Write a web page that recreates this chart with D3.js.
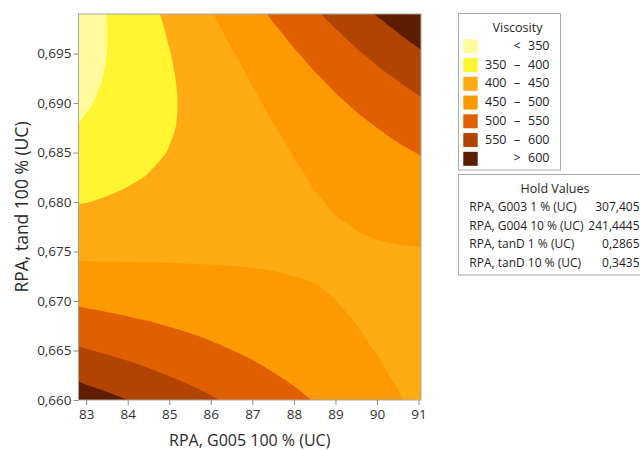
<!DOCTYPE html>
<html>
<head>
<meta charset="utf-8">
<script src="https://cdn.jsdelivr.net/npm/d3@7"></script>
<style>
  body { margin: 0; background: #fff; }
  text { font-family: "Open Sans", "Noto Sans", sans-serif; }
</style>
</head>
<body>
<svg id="chart" width="640" height="450"></svg>
<script>
// Fitted viscosity on a regular grid: columns follow xGrid (G005 100 %), rows follow yGrid (tand 100 %)
const xGrid = [82.5, 83, 83.5, 84, 84.5, 85, 85.5, 86, 86.5, 87, 87.5, 88, 88.5, 89, 89.5, 90, 90.5, 91, 91.5];
const yGrid = [0.6575, 0.6600, 0.6625, 0.6650, 0.6675, 0.6700, 0.6725, 0.6750, 0.6775, 0.6800,
               0.6825, 0.6850, 0.6875, 0.6900, 0.6925, 0.6950, 0.6975, 0.7000, 0.7025];
const viscosity = [
  [674.7, 661.5, 648.2, 634.9, 621.6, 608.4, 595.1, 581.8, 568.6, 555.3, 542.0, 528.8, 515.5, 502.2, 488.9, 475.7, 462.4, 449.1, 435.9],
  [633.9, 622.6, 611.3, 600.0, 588.7, 577.4, 566.1, 554.8, 543.5, 532.2, 520.9, 509.5, 498.2, 486.9, 475.6, 464.3, 453.0, 441.7, 430.4],
  [595.5, 586.2, 576.8, 567.5, 558.1, 548.8, 539.5, 530.1, 520.8, 511.4, 502.1, 492.8, 483.4, 474.1, 464.7, 455.4, 446.1, 436.7, 427.4],
  [559.5, 552.2, 544.8, 537.4, 530.0, 522.7, 515.3, 507.9, 500.5, 493.2, 485.8, 478.4, 471.0, 463.7, 456.3, 448.9, 441.5, 434.2, 426.8],
  [526.0, 520.6, 515.2, 509.8, 504.4, 499.0, 493.5, 488.1, 482.7, 477.3, 471.9, 466.5, 461.1, 455.7, 450.3, 444.9, 439.4, 434.0, 428.6],
  [494.9, 491.5, 488.0, 484.6, 481.1, 477.7, 474.2, 470.8, 467.4, 463.9, 460.5, 457.0, 453.6, 450.1, 446.7, 443.2, 439.8, 436.3, 432.9],
  [466.2, 464.8, 463.3, 461.8, 460.3, 458.8, 457.4, 455.9, 454.4, 452.9, 451.4, 450.0, 448.5, 447.0, 445.5, 444.0, 442.6, 441.1, 439.6],
  [440.0, 440.5, 441.0, 441.5, 442.0, 442.4, 442.9, 443.4, 443.9, 444.4, 444.9, 445.4, 445.8, 446.3, 446.8, 447.3, 447.8, 448.3, 448.7],
  [416.2, 418.7, 421.1, 423.6, 426.0, 428.5, 430.9, 433.4, 435.8, 438.3, 440.7, 443.2, 445.6, 448.1, 450.5, 453.0, 455.4, 457.9, 460.3],
  [394.9, 399.3, 403.7, 408.1, 412.5, 416.9, 421.4, 425.8, 430.2, 434.6, 439.0, 443.4, 447.9, 452.3, 456.7, 461.1, 465.5, 469.9, 474.3],
  [375.9, 382.3, 388.7, 395.1, 401.5, 407.8, 414.2, 420.6, 427.0, 433.4, 439.7, 446.1, 452.5, 458.9, 465.3, 471.6, 478.0, 484.4, 490.8],
  [359.4, 367.8, 376.1, 384.5, 392.8, 401.2, 409.5, 417.9, 426.2, 434.5, 442.9, 451.2, 459.6, 467.9, 476.3, 484.6, 493.0, 501.3, 509.7],
  [345.4, 355.7, 366.0, 376.3, 386.6, 396.9, 407.2, 417.6, 427.9, 438.2, 448.5, 458.8, 469.1, 479.4, 489.7, 500.0, 510.3, 520.7, 531.0],
  [333.8, 346.0, 358.3, 370.6, 382.9, 395.1, 407.4, 419.7, 432.0, 444.2, 456.5, 468.8, 481.1, 493.3, 505.6, 517.9, 530.2, 542.4, 554.7],
  [324.6, 338.8, 353.0, 367.3, 381.5, 395.8, 410.0, 424.2, 438.5, 452.7, 467.0, 481.2, 495.4, 509.7, 523.9, 538.2, 552.4, 566.6, 580.9],
  [317.8, 334.0, 350.2, 366.4, 382.6, 398.8, 415.0, 431.2, 447.4, 463.7, 479.9, 496.1, 512.3, 528.5, 544.7, 560.9, 577.1, 593.3, 609.5],
  [313.5, 331.7, 349.8, 368.0, 386.2, 404.3, 422.5, 440.7, 458.8, 477.0, 495.2, 513.4, 531.5, 549.7, 567.9, 586.0, 604.2, 622.4, 640.5],
  [311.6, 331.7, 351.9, 372.0, 392.1, 412.3, 432.4, 452.5, 472.7, 492.8, 512.9, 533.1, 553.2, 573.3, 593.5, 613.6, 633.8, 653.9, 674.0],
  [312.1, 334.2, 356.3, 378.4, 400.5, 422.6, 444.7, 466.8, 488.9, 511.0, 533.1, 555.2, 577.3, 599.4, 621.5, 643.6, 665.7, 687.8, 709.9]
];

const levels = [350, 400, 450, 500, 550, 600];
const bandColors = ["#FFFB9C", "#FFF631", "#FFAB13", "#FD9A00", "#E06000", "#B04400", "#5E1C00"];

const xTicks = [83, 84, 85, 86, 87, 88, 89, 90, 91];
const yTicks = [0.660, 0.665, 0.670, 0.675, 0.680, 0.685, 0.690, 0.695];
const xExtent = [82.815, 91.06];
const yExtent = [0.660, 0.699];

const xTitle = "RPA, G005 100 % (UC)";
const yTitle = "RPA, tand 100 % (UC)";
const legendTitle = "Viscosity";
const holdTitle = "Hold Values";
const holdNames = ["RPA, G003 1 % (UC)", "RPA, G004 10 % (UC)", "RPA, tanD 1 % (UC)", "RPA, tanD 10 % (UC)"];
const holdValues = ["307,405", "241,4445", "0,2865", "0,3435"];

const svg = d3.select("#chart");
const plot = { left: 78.5, right: 421, top: 14, bottom: 400 };

const x = d3.scaleLinear().domain(xExtent).range([plot.left, plot.right]);
const y = d3.scaleLinear().domain(yExtent).range([plot.bottom, plot.top]);

const commaLocale = d3.formatLocale({ decimal: ",", thousands: ".", grouping: [3], currency: ["", ""] });
const fmt3 = commaLocale.format(".3f");

svg.append("clipPath").attr("id", "plotClip")
  .append("rect")
  .attr("x", plot.left).attr("y", plot.top)
  .attr("width", plot.right - plot.left).attr("height", plot.bottom - plot.top);

const area = svg.append("g").attr("clip-path", "url(#plotClip)");

// lowest band fills the whole area, higher bands are painted on top
area.append("rect")
  .attr("x", plot.left).attr("y", plot.top)
  .attr("width", plot.right - plot.left).attr("height", plot.bottom - plot.top)
  .attr("fill", bandColors[0]);

const contourSets = d3.contours()
  .size([xGrid.length, yGrid.length])
  .thresholds(levels)(viscosity.flat());

const dx = xGrid[1] - xGrid[0];
const dy = yGrid[1] - yGrid[0];
const gx = c => x(xGrid[0] + (c - 0.5) * dx);
const gy = c => y(yGrid[0] + (c - 0.5) * dy);
const ringLine = d3.line()
  .x(p => gx(p[0])).y(p => gy(p[1]))
  .curve(d3.curveCatmullRomClosed.alpha(0.5));

area.selectAll("path.band")
  .data(contourSets)
  .join("path")
  .attr("class", "band")
  .attr("fill", (d, i) => bandColors[i + 1])
  .attr("fill-rule", "evenodd")
  .attr("d", d => d.coordinates
    .map(poly => poly.map(ring => ringLine(ring.slice(0, -1))).join(""))
    .join(""));

// frame
svg.append("rect")
  .attr("x", plot.left).attr("y", plot.top)
  .attr("width", plot.right - plot.left).attr("height", plot.bottom - plot.top)
  .attr("fill", "none").attr("stroke", "#a6a6a6").attr("stroke-width", 1);

// axes
const xAxis = svg.append("g")
  .attr("transform", `translate(0,${plot.bottom})`)
  .call(d3.axisBottom(x).tickValues(xTicks).tickFormat(d3.format("d")).tickSize(5).tickPadding(4));
const yAxis = svg.append("g")
  .attr("transform", `translate(${plot.left},0)`)
  .call(d3.axisLeft(y).tickValues(yTicks).tickFormat(fmt3).tickSize(5).tickPadding(2));

[xAxis, yAxis].forEach(a => {
  a.select(".domain").remove();
  a.selectAll(".tick line").attr("stroke", "#8c8c8c");
  a.selectAll(".tick text")
    .attr("fill", "#333")
    .style("font-family", '"Open Sans", "Noto Sans", sans-serif')
    .style("font-size", "13.5px");
});

svg.append("text")
  .attr("x", (plot.left + plot.right) / 2).attr("y", 446)
  .attr("text-anchor", "middle")
  .attr("fill", "#2a2a2a")
  .style("font-size", "16px")
  .text(xTitle);

svg.append("text")
  .attr("transform", `translate(28,${(plot.top + plot.bottom) / 2}) rotate(-90)`)
  .attr("text-anchor", "middle")
  .attr("fill", "#2a2a2a")
  .style("font-size", "17.5px")
  .text(yTitle);

// legend
const legend = svg.append("g");
legend.append("rect")
  .attr("x", 458.5).attr("y", 13.5).attr("width", 102).attr("height", 156.5)
  .attr("fill", "#fff").attr("stroke", "#a8a8a8").attr("stroke-width", 1);
legend.append("text")
  .attr("x", 517.5).attr("y", 31.5).attr("text-anchor", "middle")
  .attr("fill", "#1e1e1e").style("font-size", "12.5px")
  .text(legendTitle);

const legendRows = bandColors.map((c, i) => ({
  color: c,
  lo: i === 0 ? null : levels[i - 1],
  hi: i === levels.length ? null : levels[i]
}));

const rowStep = 18.75;
const rows = legend.selectAll("g.row").data(legendRows).join("g")
  .attr("class", "row")
  .attr("transform", (d, i) => `translate(0,${39.3 + i * rowStep})`);
rows.append("rect")
  .attr("x", 463.3).attr("y", 0).attr("width", 14.4).attr("height", 14)
  .attr("fill", d => d.color);
rows.append("text")
  .attr("x", 506.5).attr("y", 10.5).attr("text-anchor", "end")
  .attr("fill", "#1e1e1e").style("font-size", "12.5px")
  .text(d => d.lo !== null && d.hi !== null ? d.lo : "");
rows.append("text")
  .attr("x", 517).attr("y", 10.5).attr("text-anchor", "middle")
  .attr("fill", "#1e1e1e").style("font-size", "12.5px")
  .text(d => d.lo === null ? "<" : d.hi === null ? ">" : "\u2013");
rows.append("text")
  .attr("x", 549.5).attr("y", 10.5).attr("text-anchor", "end")
  .attr("fill", "#1e1e1e").style("font-size", "12.5px")
  .text(d => d.hi === null ? d.lo : d.hi);

// hold values table
const hold = svg.append("g");
hold.append("rect")
  .attr("x", 458.5).attr("y", 174.5).attr("width", 190).attr("height", 100.5)
  .attr("fill", "#fff").attr("stroke", "#a8a8a8").attr("stroke-width", 1);
hold.append("text")
  .attr("x", 555).attr("y", 193.3).attr("text-anchor", "middle")
  .attr("fill", "#1e1e1e").style("font-size", "12.5px")
  .text(holdTitle);
holdNames.forEach((name, i) => {
  const yy = 211 + i * 18.6;
  hold.append("text").attr("x", 469.3).attr("y", yy)
    .attr("fill", "#1e1e1e").style("font-size", "12px").text(name);
  hold.append("text").attr("x", 639.5).attr("y", yy).attr("text-anchor", "end")
    .attr("fill", "#1e1e1e").style("font-size", "12px").text(holdValues[i]);
});
</script>
</body>
</html>
